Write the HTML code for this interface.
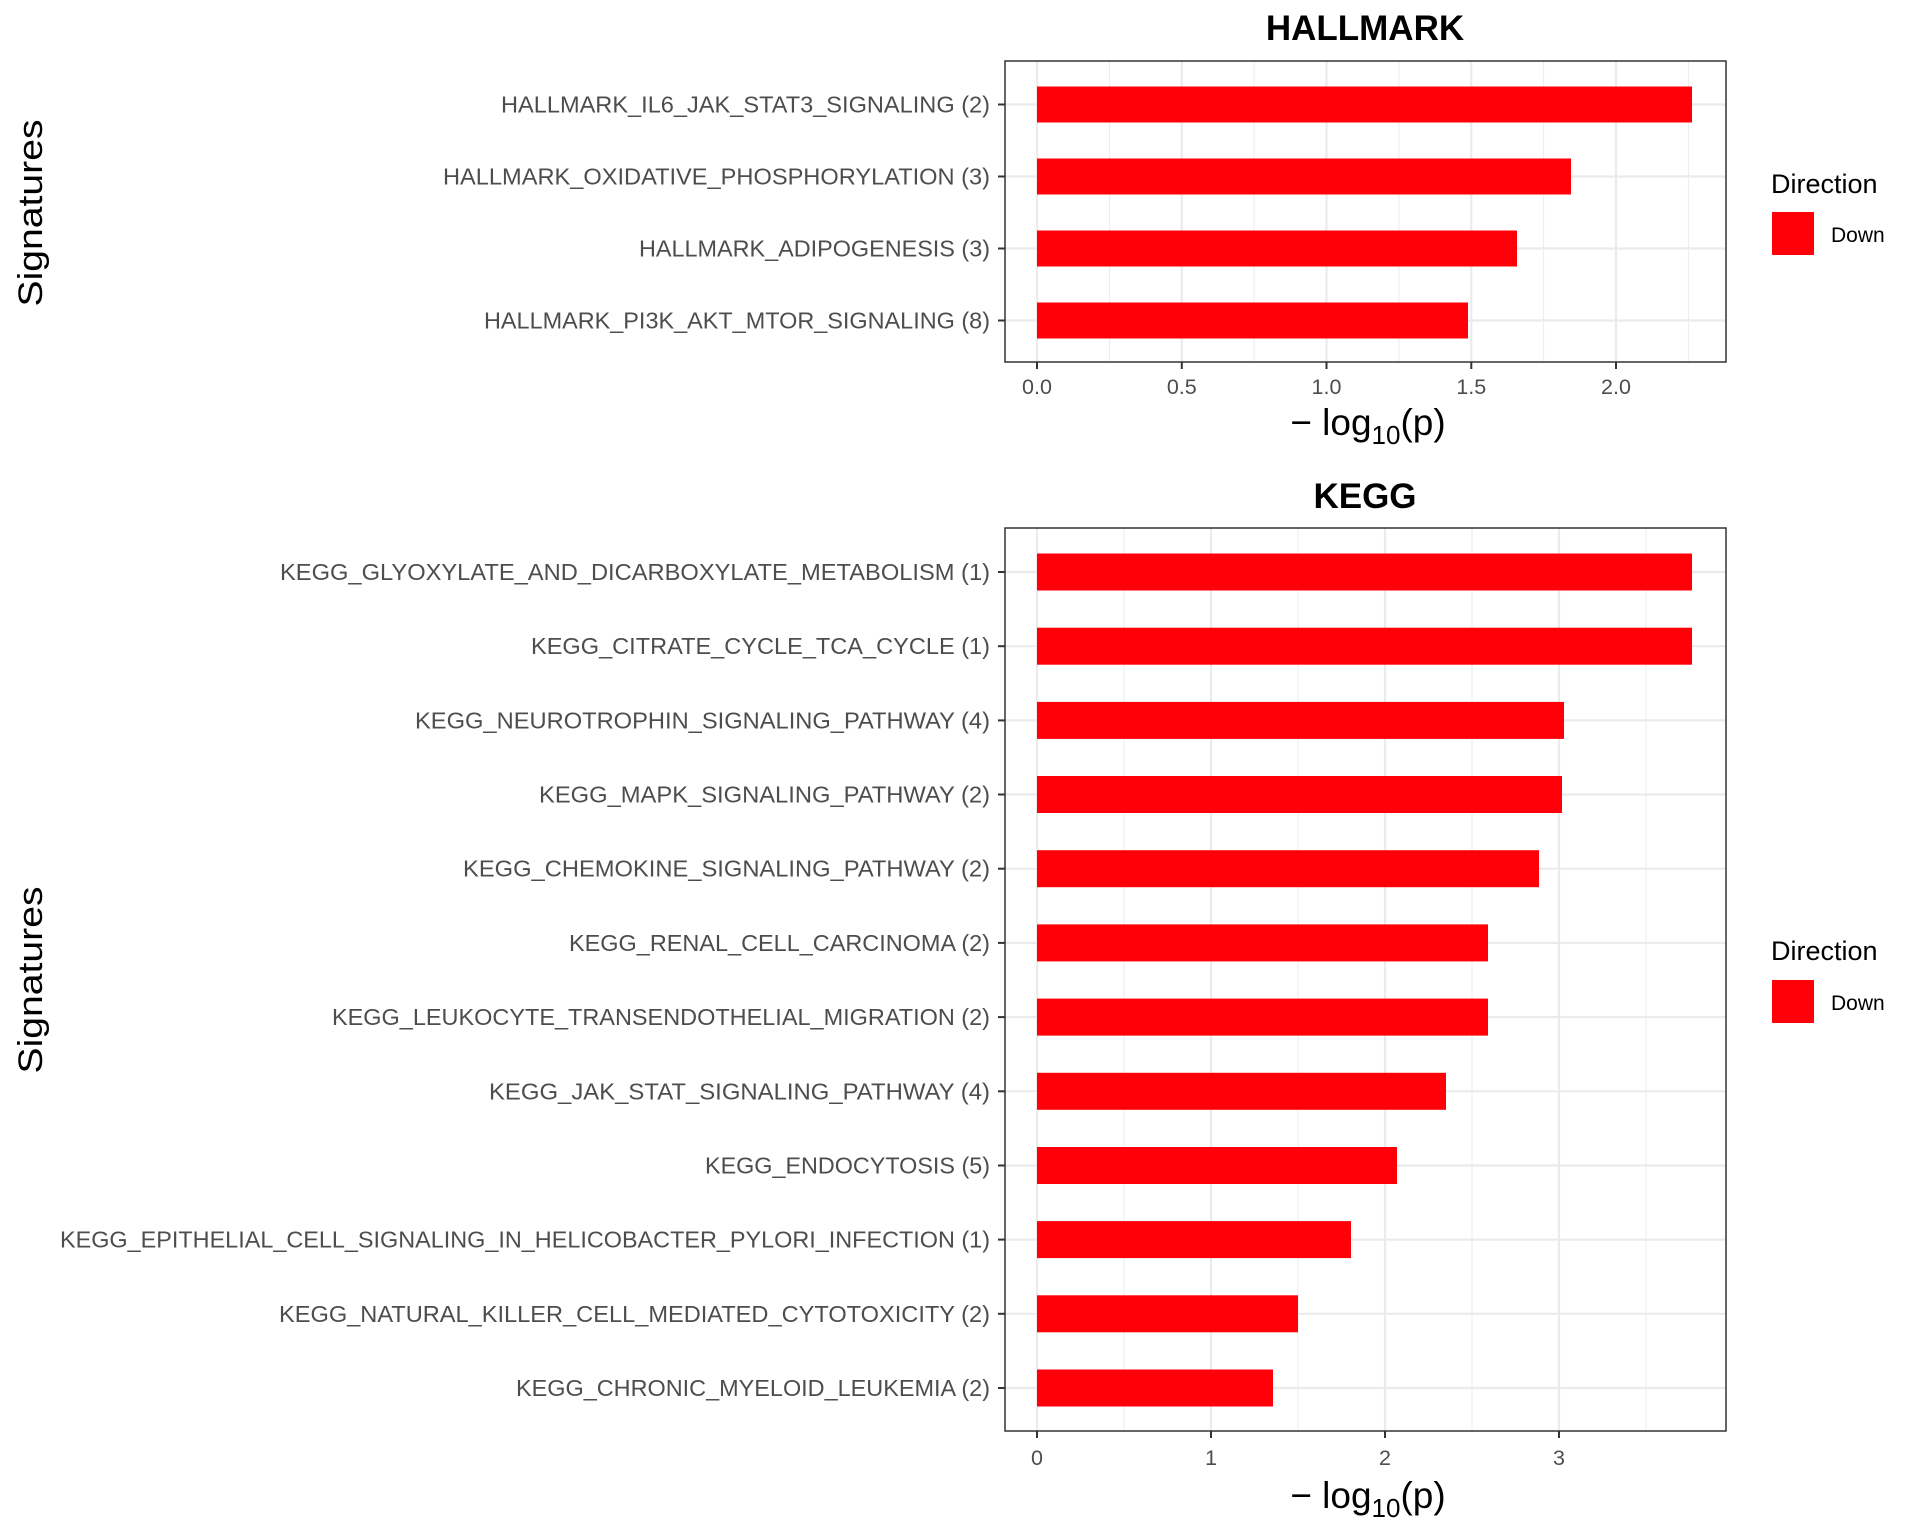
<!DOCTYPE html>
<html><head><meta charset="utf-8"><style>html,body{margin:0;padding:0;background:#fff}svg{display:block}</style></head>
<body>
<svg width="1920" height="1536" xmlns="http://www.w3.org/2000/svg" font-family="Liberation Sans, Arial, sans-serif">
<rect width="1920" height="1536" fill="#fff"/>
<!-- HALLMARK panel -->
<g>
<rect x="1005" y="61" width="721" height="301" fill="#fff"/>
<g stroke="#ebebeb" stroke-width="1">
<line x1="1109.4" y1="61" x2="1109.4" y2="362"/><line x1="1254.1" y1="61" x2="1254.1" y2="362"/><line x1="1398.9" y1="61" x2="1398.9" y2="362"/><line x1="1543.6" y1="61" x2="1543.6" y2="362"/><line x1="1688.4" y1="61" x2="1688.4" y2="362"/>
</g>
<g stroke="#ebebeb" stroke-width="2.2">
<line x1="1037" y1="61" x2="1037" y2="362"/><line x1="1181.8" y1="61" x2="1181.8" y2="362"/><line x1="1326.5" y1="61" x2="1326.5" y2="362"/><line x1="1471.3" y1="61" x2="1471.3" y2="362"/><line x1="1616" y1="61" x2="1616" y2="362"/>
<line x1="1005" y1="104.5" x2="1726" y2="104.5"/><line x1="1005" y1="176.5" x2="1726" y2="176.5"/><line x1="1005" y1="248.5" x2="1726" y2="248.5"/><line x1="1005" y1="320.5" x2="1726" y2="320.5"/>
</g>
<g fill="#ff0008">
<rect x="1037" y="86.5" width="655" height="36"/>
<rect x="1037" y="158.5" width="534" height="36"/>
<rect x="1037" y="230.5" width="480" height="36"/>
<rect x="1037" y="302.5" width="431" height="36"/>
</g>
<rect x="1005" y="61" width="721" height="301" fill="none" stroke="#333" stroke-width="1.5"/>
<g stroke="#333" stroke-width="2">
<line x1="998" y1="104.5" x2="1005" y2="104.5"/><line x1="998" y1="176.5" x2="1005" y2="176.5"/><line x1="998" y1="248.5" x2="1005" y2="248.5"/><line x1="998" y1="320.5" x2="1005" y2="320.5"/>
<line x1="1037" y1="362" x2="1037" y2="369"/><line x1="1181.8" y1="362" x2="1181.8" y2="369"/><line x1="1326.5" y1="362" x2="1326.5" y2="369"/><line x1="1471.3" y1="362" x2="1471.3" y2="369"/><line x1="1616" y1="362" x2="1616" y2="369"/>
</g>
<g fill="#4d4d4d" font-size="23" text-anchor="end">
<text x="990" y="112.5" textLength="489" lengthAdjust="spacingAndGlyphs">HALLMARK_IL6_JAK_STAT3_SIGNALING (2)</text>
<text x="990" y="184.5" textLength="547" lengthAdjust="spacingAndGlyphs">HALLMARK_OXIDATIVE_PHOSPHORYLATION (3)</text>
<text x="990" y="256.5" textLength="351" lengthAdjust="spacingAndGlyphs">HALLMARK_ADIPOGENESIS (3)</text>
<text x="990" y="328.5" textLength="506" lengthAdjust="spacingAndGlyphs">HALLMARK_PI3K_AKT_MTOR_SIGNALING (8)</text>
</g>
<g fill="#4d4d4d" font-size="21.5" text-anchor="middle">
<text x="1037" y="394">0.0</text><text x="1181.8" y="394">0.5</text><text x="1326.5" y="394">1.0</text><text x="1471.3" y="394">1.5</text><text x="1616" y="394">2.0</text>
</g>
<text x="1365" y="40" font-size="35" font-weight="bold" text-anchor="middle">HALLMARK</text>
<text x="1368" y="435" font-size="37" text-anchor="middle">− log<tspan font-size="26" dy="9">10</tspan><tspan dy="-9">(p)</tspan></text>
<text transform="translate(42,213) rotate(-90)" font-size="34" text-anchor="middle" textLength="187" lengthAdjust="spacingAndGlyphs">Signatures</text>
<text x="1771" y="193" font-size="27">Direction</text>
<rect x="1772" y="212" width="42" height="43" fill="#ff0008"/>
<text x="1831" y="242" font-size="21">Down</text>
</g>
<!-- KEGG panel -->
<g>
<g stroke="#ebebeb" stroke-width="1">
<line x1="1124" y1="528" x2="1124" y2="1431"/><line x1="1298" y1="528" x2="1298" y2="1431"/><line x1="1472" y1="528" x2="1472" y2="1431"/><line x1="1646" y1="528" x2="1646" y2="1431"/>
</g>
<g stroke="#ebebeb" stroke-width="2.2">
<line x1="1037" y1="528" x2="1037" y2="1431"/><line x1="1211" y1="528" x2="1211" y2="1431"/><line x1="1385" y1="528" x2="1385" y2="1431"/><line x1="1559" y1="528" x2="1559" y2="1431"/>
<line x1="1005" y1="572" x2="1726" y2="572"/><line x1="1005" y1="646.2" x2="1726" y2="646.2"/><line x1="1005" y1="720.4" x2="1726" y2="720.4"/><line x1="1005" y1="794.5" x2="1726" y2="794.5"/><line x1="1005" y1="868.7" x2="1726" y2="868.7"/><line x1="1005" y1="942.9" x2="1726" y2="942.9"/><line x1="1005" y1="1017.1" x2="1726" y2="1017.1"/><line x1="1005" y1="1091.3" x2="1726" y2="1091.3"/><line x1="1005" y1="1165.5" x2="1726" y2="1165.5"/><line x1="1005" y1="1239.6" x2="1726" y2="1239.6"/><line x1="1005" y1="1313.8" x2="1726" y2="1313.8"/><line x1="1005" y1="1388" x2="1726" y2="1388"/>
</g>
<g fill="#ff0008">
<rect x="1037" y="553.5" width="655" height="37"/>
<rect x="1037" y="627.7" width="655" height="37"/>
<rect x="1037" y="701.9" width="527" height="37"/>
<rect x="1037" y="776" width="525" height="37"/>
<rect x="1037" y="850.2" width="502" height="37"/>
<rect x="1037" y="924.4" width="451" height="37"/>
<rect x="1037" y="998.6" width="451" height="37"/>
<rect x="1037" y="1072.8" width="409" height="37"/>
<rect x="1037" y="1147" width="360" height="37"/>
<rect x="1037" y="1221.1" width="314" height="37"/>
<rect x="1037" y="1295.3" width="261" height="37"/>
<rect x="1037" y="1369.5" width="236" height="37"/>
</g>
<rect x="1005" y="528" width="721" height="903" fill="none" stroke="#333" stroke-width="1.5"/>
<g stroke="#333" stroke-width="2">
<line x1="998" y1="572" x2="1005" y2="572"/><line x1="998" y1="646.2" x2="1005" y2="646.2"/><line x1="998" y1="720.4" x2="1005" y2="720.4"/><line x1="998" y1="794.5" x2="1005" y2="794.5"/><line x1="998" y1="868.7" x2="1005" y2="868.7"/><line x1="998" y1="942.9" x2="1005" y2="942.9"/><line x1="998" y1="1017.1" x2="1005" y2="1017.1"/><line x1="998" y1="1091.3" x2="1005" y2="1091.3"/><line x1="998" y1="1165.5" x2="1005" y2="1165.5"/><line x1="998" y1="1239.6" x2="1005" y2="1239.6"/><line x1="998" y1="1313.8" x2="1005" y2="1313.8"/><line x1="998" y1="1388" x2="1005" y2="1388"/>
<line x1="1037" y1="1431" x2="1037" y2="1438"/><line x1="1211" y1="1431" x2="1211" y2="1438"/><line x1="1385" y1="1431" x2="1385" y2="1438"/><line x1="1559" y1="1431" x2="1559" y2="1438"/>
</g>
<g fill="#4d4d4d" font-size="23" text-anchor="end">
<text x="990" y="580" textLength="710" lengthAdjust="spacingAndGlyphs">KEGG_GLYOXYLATE_AND_DICARBOXYLATE_METABOLISM (1)</text>
<text x="990" y="654.2" textLength="459" lengthAdjust="spacingAndGlyphs">KEGG_CITRATE_CYCLE_TCA_CYCLE (1)</text>
<text x="990" y="728.4" textLength="575" lengthAdjust="spacingAndGlyphs">KEGG_NEUROTROPHIN_SIGNALING_PATHWAY (4)</text>
<text x="990" y="802.5" textLength="451" lengthAdjust="spacingAndGlyphs">KEGG_MAPK_SIGNALING_PATHWAY (2)</text>
<text x="990" y="876.7" textLength="527" lengthAdjust="spacingAndGlyphs">KEGG_CHEMOKINE_SIGNALING_PATHWAY (2)</text>
<text x="990" y="950.9" textLength="421" lengthAdjust="spacingAndGlyphs">KEGG_RENAL_CELL_CARCINOMA (2)</text>
<text x="990" y="1025.1" textLength="658" lengthAdjust="spacingAndGlyphs">KEGG_LEUKOCYTE_TRANSENDOTHELIAL_MIGRATION (2)</text>
<text x="990" y="1099.3" textLength="501" lengthAdjust="spacingAndGlyphs">KEGG_JAK_STAT_SIGNALING_PATHWAY (4)</text>
<text x="990" y="1173.5" textLength="285" lengthAdjust="spacingAndGlyphs">KEGG_ENDOCYTOSIS (5)</text>
<text x="990" y="1247.6" textLength="930" lengthAdjust="spacingAndGlyphs">KEGG_EPITHELIAL_CELL_SIGNALING_IN_HELICOBACTER_PYLORI_INFECTION (1)</text>
<text x="990" y="1321.8" textLength="711" lengthAdjust="spacingAndGlyphs">KEGG_NATURAL_KILLER_CELL_MEDIATED_CYTOTOXICITY (2)</text>
<text x="990" y="1396" textLength="474" lengthAdjust="spacingAndGlyphs">KEGG_CHRONIC_MYELOID_LEUKEMIA (2)</text>
</g>
<g fill="#4d4d4d" font-size="21.5" text-anchor="middle">
<text x="1037" y="1465">0</text><text x="1211" y="1465">1</text><text x="1385" y="1465">2</text><text x="1559" y="1465">3</text>
</g>
<text x="1365" y="508" font-size="35" font-weight="bold" text-anchor="middle">KEGG</text>
<text x="1368" y="1508" font-size="37" text-anchor="middle">− log<tspan font-size="26" dy="9">10</tspan><tspan dy="-9">(p)</tspan></text>
<text transform="translate(42,980) rotate(-90)" font-size="34" text-anchor="middle" textLength="187" lengthAdjust="spacingAndGlyphs">Signatures</text>
<text x="1771" y="960" font-size="27">Direction</text>
<rect x="1772" y="980" width="42" height="43" fill="#ff0008"/>
<text x="1831" y="1010" font-size="21">Down</text>
</g>
</svg>
</body></html>
